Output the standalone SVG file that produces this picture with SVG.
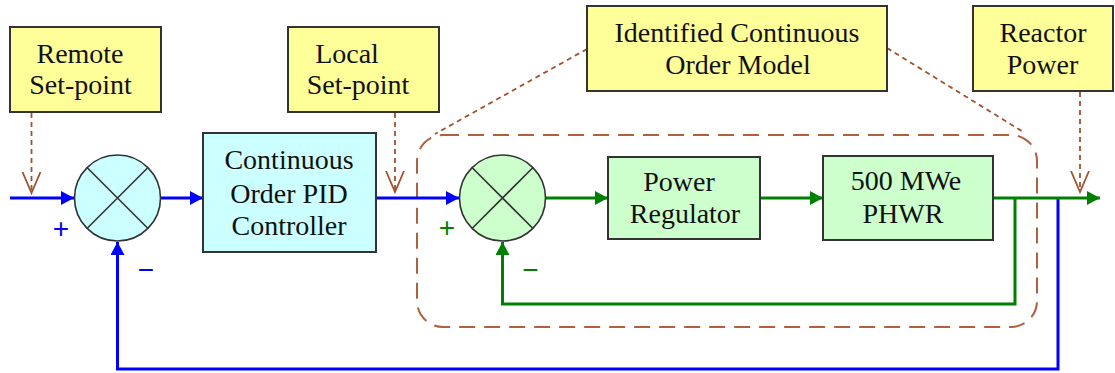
<svg xmlns="http://www.w3.org/2000/svg" width="1115" height="373" viewBox="0 0 1115 373">
<style>
.box{stroke:#333;stroke-width:2}
.y{fill:#ffff99}
.c{fill:#ccffff}
.g{fill:#ccffcc}
.sum{stroke:#333;stroke-width:1.6}
.xl{stroke:#333;stroke-width:1.6}
.t{font-family:"Liberation Serif","Times New Roman",serif;font-size:28px;fill:#111;text-anchor:middle}
.s{font-family:"Liberation Sans",Arial,sans-serif;font-size:28px;text-anchor:middle}
.blue{fill:none;stroke:#0000ff;stroke-width:3}
.green{fill:none;stroke:#008000;stroke-width:3}
.dot{fill:none;stroke:#a0522d;stroke-width:1.8;stroke-dasharray:5 4}
.dash{fill:none;stroke:#b0603c;stroke-width:2;stroke-dasharray:16 9}
</style>
<defs>
<marker id="ab" markerUnits="userSpaceOnUse" markerWidth="14" markerHeight="16" refX="13" refY="7" orient="auto">
<path d="M0,0 L13,7 L0,14 z" fill="#0000ff"/>
</marker>
<marker id="ag" markerUnits="userSpaceOnUse" markerWidth="14" markerHeight="16" refX="13" refY="7" orient="auto">
<path d="M0,0 L13,7 L0,14 z" fill="#008000"/>
</marker>
<marker id="av" markerUnits="userSpaceOnUse" markerWidth="24" markerHeight="22" refX="21" refY="10" orient="auto">
<path d="M0,1 L21,10 L0,19" fill="none" stroke="#a0522d" stroke-width="1.8"/>
</marker>
</defs>

<g id="model-boundary">
<rect x="417" y="135" width="620" height="192" rx="26" ry="26" class="dash"/>
</g>

<g id="connectors">
<path class="blue" d="M10,198 H74" marker-end="url(#ab)"/>
<path class="blue" d="M161,198 H203" marker-end="url(#ab)"/>
<path class="blue" d="M376,198 H459" marker-end="url(#ab)"/>
<path class="blue" d="M1058,198 V369 H117.5 V242" marker-end="url(#ab)"/>
<path class="green" d="M546,198 H608" marker-end="url(#ag)"/>
<path class="green" d="M760,198 H823" marker-end="url(#ag)"/>
<path class="green" d="M993,198 H1100" marker-end="url(#ag)"/>
<path class="green" d="M1015,198 V304 H502.5 V242" marker-end="url(#ag)"/>
<path class="dot" d="M31.5,113 V193" marker-end="url(#av)"/>
<path class="dot" d="M395,113 V192" marker-end="url(#av)"/>
<path class="dot" d="M1080,92 V192" marker-end="url(#av)"/>
<path class="dot" d="M587,49 L435,134"/>
<path class="dot" d="M887,48 L1025,133"/>
</g>

<g id="remote-setpoint">
<rect x="10" y="27" width="151" height="85" class="box y"/>
<text class="t" x="80" y="63">Remote</text>
<text class="t" x="80.5" y="94">Set-point</text>
</g>

<g id="local-setpoint">
<rect x="288" y="27" width="151" height="85" class="box y"/>
<text class="t" x="347" y="63">Local</text>
<text class="t" x="358" y="94">Set-point</text>
</g>

<g id="identified-model">
<rect x="587" y="6" width="300" height="85" class="box y"/>
<text class="t" x="737" y="42">Identified Continuous</text>
<text class="t" x="738" y="74">Order Model</text>
</g>

<g id="reactor-power">
<rect x="973" y="6" width="140" height="85" class="box y"/>
<text class="t" x="1043" y="42">Reactor</text>
<text class="t" x="1042.5" y="74">Power</text>
</g>

<g id="sum-outer">
<circle cx="117.5" cy="198" r="43" class="sum c"/>
<path class="xl" d="M87,167.5 L148,228.5 M148,167.5 L87,228.5"/>
<text class="s" x="61" y="238" fill="#0000ff">+</text>
<text class="s" x="146" y="279" fill="#0000ff">−</text>
</g>

<g id="pid-controller">
<rect x="203" y="133" width="173" height="119" class="box c"/>
<text class="t" x="289" y="169">Continuous</text>
<text class="t" x="289" y="203">Order PID</text>
<text class="t" x="289" y="235">Controller</text>
</g>

<g id="sum-inner">
<circle cx="502.5" cy="198" r="43" class="sum g"/>
<path class="xl" d="M472,167.5 L533,228.5 M533,167.5 L472,228.5"/>
<text class="s" x="447" y="237" fill="#008000">+</text>
<text class="s" x="530.5" y="279" fill="#008000">−</text>
</g>

<g id="power-regulator">
<rect x="608" y="157" width="152" height="82" class="box g"/>
<text class="t" x="679" y="191">Power</text>
<text class="t" x="685" y="223">Regulator</text>
</g>

<g id="phwr">
<rect x="823" y="156" width="170" height="84" class="box g"/>
<text class="t" x="906" y="190">500 MWe</text>
<text class="t" x="903" y="223">PHWR</text>
</g>
</svg>
